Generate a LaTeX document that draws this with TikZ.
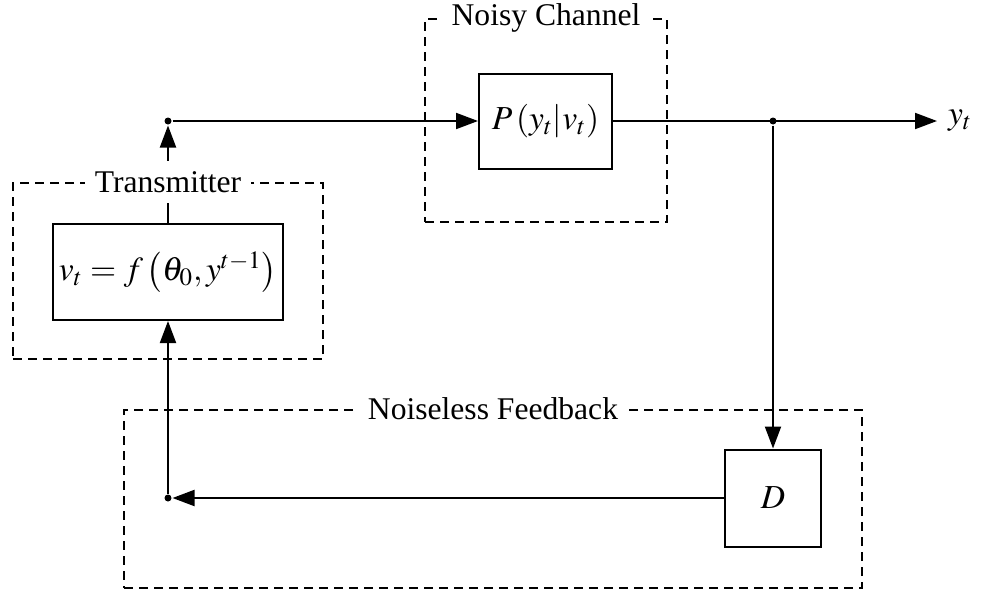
\documentclass[tikz,border=0pt]{standalone}
\usepackage{mathptmx}
\usepackage[no-math]{fontspec}
\setmainfont{Liberation Serif}
\usepackage{tikz}
\usetikzlibrary{arrows.meta}

\begin{document}
\begin{tikzpicture}[x=0.5pt, y=-0.5pt, line width=1pt,
        font=\fontsize{15.8}{19}\selectfont,
        block/.style={draw, rectangle, fill=white, inner sep=0pt, font=\fontsize{16.8}{20}\selectfont},
        frame/.style={draw, rectangle, dash pattern=on 4.5pt off 3pt, line width=0.9pt, inner sep=0pt},
        framelabel/.style={fill=white, inner sep=5pt},
        dot/.style={circle, fill, inner sep=0pt, minimum size=3.5pt},
        arr/.style={-{Triangle[length=11pt, width=8pt]}}]
        \useasboundingbox (0,0) rectangle (981,594);

        % Frames
        \node[frame, minimum width=155pt, minimum height=88pt] (txframe) at (168,271) {};
        \node[frame, minimum width=121pt, minimum height=101.5pt] (chframe) at (546,120.5) {};
        \node[frame, minimum width=369pt, minimum height=89pt] (fbframe) at (493,499) {};

        % Nodes
        \node[block, minimum width=115pt, minimum height=48pt] (enc) at (168,272) {$v_t = f\left(\theta_0, y^{t-1}\right)$};
        \node[block, minimum width=66.5pt, minimum height=47.5pt] (chan) at (545.5,121) {$P\left(y_t|v_t\right)$};
        \node[block, minimum width=48pt, minimum height=48.5pt] (dec) at (773,498) {$D$};
        \node[dot] (top) at (168,121) {};
        \node[dot] (split) at (773,121) {};
        \node[dot] (bottom) at (168,498) {};
        \coordinate (out) at (937,121);
        \node[anchor=west, inner sep=5pt, font=\fontsize{16.8}{20}\selectfont] (ylabel) at (out) {$y_t$};

        % Lines
        \draw[arr] (enc) -- (top);
        \draw[arr] (top) -- (chan);
        \draw[arr] (chan) -- (out);
        \draw[arr] (split) -- (dec);
        \draw[arr] (dec) -- (bottom);
        \draw[arr] (bottom) -- (enc);

        % Labels
        \node[framelabel] (txlabel) at (txframe.north) {Transmitter};
        \node[framelabel] (chlabel) at (chframe.north) {Noisy Channel};
        \node[framelabel] (fblabel) at (fbframe.north) {Noiseless Feedback};
    \end{tikzpicture}
\end{document}
